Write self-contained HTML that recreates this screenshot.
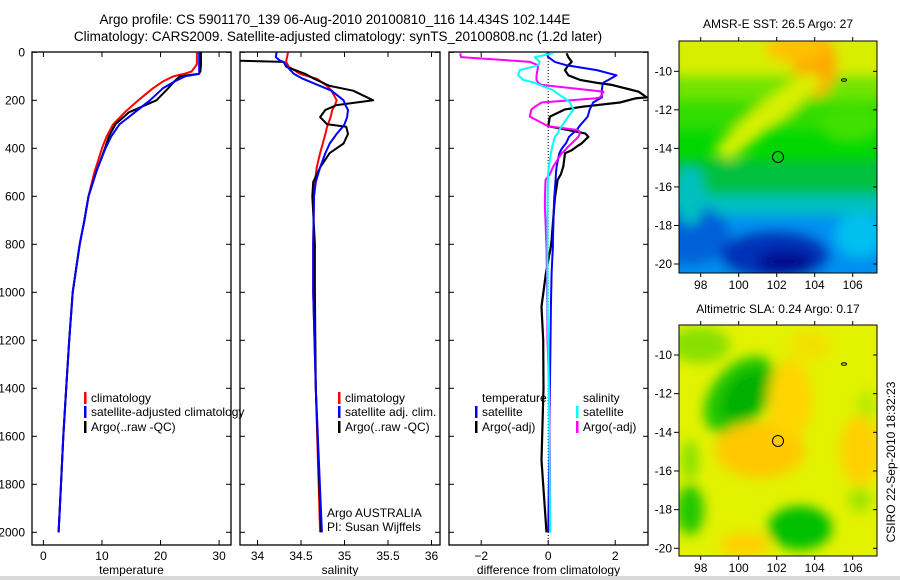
<!DOCTYPE html>
<html><head><meta charset="utf-8"><style>
body{margin:0;background:#fff;}
svg{display:block;font-family:"Liberation Sans",sans-serif;}
text{font-size:12px;fill:#000;}
</style></head><body>
<svg id="fig" width="900" height="580" viewBox="0 0 900 580">
<defs>
<filter id="blur" x="-20%" y="-20%" width="140%" height="140%"><feGaussianBlur stdDeviation="6"/></filter>
<clipPath id="m1clip"><rect x="679" y="41" width="198" height="232"/></clipPath>
<clipPath id="m2clip"><rect x="679" y="325" width="198" height="231"/></clipPath>
<clipPath id="p1clip"><rect x="32" y="52" width="199" height="493"/></clipPath>
<clipPath id="p2clip"><rect x="240" y="52" width="200" height="493"/></clipPath>
<clipPath id="p3clip"><rect x="449" y="52" width="199" height="493"/></clipPath>
</defs>
<text x="335" y="24" text-anchor="middle" style="font-size:13.5px">Argo profile: CS 5901170_139 06-Aug-2010 20100810_116 14.434S 102.144E</text>
<text x="338" y="41" text-anchor="middle" style="font-size:13.5px">Climatology: CARS2009. Satellite-adjusted climatology: synTS_20100808.nc (1.2d later)</text>

<!-- Map 1 -->
<g clip-path="url(#m1clip)">
<rect x="679" y="41" width="198" height="232" fill="#00d800"/>
<g filter="url(#blur)">
<rect x="670" y="30" width="220" height="50" fill="#d8ee00"/>
<rect x="670" y="75" width="220" height="30" fill="#70e400"/>
<rect x="670" y="100" width="230" height="30" fill="#30dc00"/>
<ellipse cx="815" cy="65" rx="22" ry="32" fill="#ffa800"/>
<ellipse cx="795" cy="48" rx="30" ry="14" fill="#ffc000"/>
<polygon points="712,150 730,160 800,105 825,80 805,72 760,105" fill="#d8f000"/>
<ellipse cx="850" cy="125" rx="30" ry="18" fill="#40e000"/>
<rect x="670" y="160" width="230" height="38" fill="#00c040"/>
<rect x="670" y="195" width="230" height="22" fill="#00c0c0"/>
<rect x="670" y="215" width="230" height="70" fill="#0090f0"/>
<ellipse cx="690" cy="235" rx="40" ry="30" fill="#0060d8"/>
<ellipse cx="775" cy="255" rx="55" ry="25" fill="#0030b8"/>
<ellipse cx="785" cy="262" rx="28" ry="12" fill="#001090"/>
<ellipse cx="860" cy="235" rx="25" ry="22" fill="#00c0f0"/>
<ellipse cx="690" cy="195" rx="15" ry="30" fill="#00c0c0"/>
</g>
</g>
<rect x="679" y="41" width="198" height="232" fill="none" stroke="#000"/>
<circle cx="778" cy="157" r="5.5" fill="none" stroke="#000"/>
<ellipse cx="844" cy="80" rx="2.5" ry="1.3" fill="none" stroke="#000"/>
<text x="778" y="28" text-anchor="middle">AMSR-E SST: 26.5 Argo: 27</text>

<!-- Map 2 -->
<g clip-path="url(#m2clip)">
<rect x="679" y="325" width="198" height="231" fill="#e2f200"/>
<g filter="url(#blur)">
<ellipse cx="740" cy="395" rx="28" ry="45" transform="rotate(40 740 395)" fill="#22c800"/>
<ellipse cx="745" cy="395" rx="18" ry="30" transform="rotate(40 745 395)" fill="#00b000"/>
<ellipse cx="700" cy="345" rx="30" ry="18" fill="#88e000"/>
<ellipse cx="800" cy="528" rx="32" ry="22" fill="#00c000"/>
<ellipse cx="690" cy="510" rx="14" ry="25" fill="#20c800"/>
<ellipse cx="690" cy="460" rx="8" ry="20" fill="#80e000"/>
<ellipse cx="760" cy="450" rx="45" ry="28" fill="#ffc800"/>
<ellipse cx="790" cy="400" rx="22" ry="40" fill="#ffd400"/>
<ellipse cx="860" cy="450" rx="20" ry="35" fill="#ffd000"/>
<ellipse cx="745" cy="545" rx="25" ry="12" fill="#ffd000"/>
<ellipse cx="810" cy="345" rx="20" ry="15" fill="#f4e000"/>
<ellipse cx="867" cy="405" rx="10" ry="14" fill="#b8ea00"/>
<ellipse cx="860" cy="500" rx="12" ry="12" fill="#a0e400"/>
</g>
</g>
<rect x="679" y="325" width="198" height="231" fill="none" stroke="#000"/>
<circle cx="778" cy="441" r="5.5" fill="none" stroke="#000"/>
<ellipse cx="844" cy="364" rx="2.5" ry="1.3" fill="none" stroke="#000"/>
<text x="778" y="313" text-anchor="middle">Altimetric SLA: 0.24 Argo: 0.17</text>
<text x="0" y="0" text-anchor="middle" transform="translate(895 462) rotate(-90)">CSIRO 22-Sep-2010 18:32:23</text>

<g id="axes"></g>
<rect x="0" y="576" width="900" height="4" fill="#d8d8d8"/>
</svg>
<script>
// ---------- data ----------
const depthT = [0,50,80,90,100,120,150,200,250,300,350,400,500,600,700,800,1000,1200,1400,1600,1800,2000];
const tempArgo = [26.9,26.9,26.8,26.5,23.3,22.4,21.3,19.3,14.6,12.3,11.2,10.5,9.0,7.7,7.0,6.2,5.0,4.4,3.9,3.4,3.0,2.6];
const tempClim = [26.2,26.2,25.3,24.0,22.2,20.5,18.7,16.2,13.9,11.9,10.8,10.0,8.7,7.7,7.0,6.2,5.0,4.4,3.9,3.4,3.0,2.6];
const tempSat  = [26.6,26.6,26.6,26.6,24.2,22.5,20.4,18.2,15.6,13.0,11.6,10.6,9.0,7.7,7.0,6.2,5.0,4.4,3.9,3.4,3.0,2.6];
const depthS = [0,20,35,40,60,90,110,140,160,200,220,240,270,300,310,340,380,420,480,540,600,800,1000,1400,2000];
const salArgo = [33.75,33.75,33.75,34.3,34.33,34.55,34.65,34.83,35.1,35.33,34.91,34.78,34.72,34.8,35.02,35.04,34.99,34.83,34.72,34.64,34.63,34.66,34.66,34.67,34.73];
const salClim = [34.35,34.34,34.33,34.33,34.36,34.49,34.68,34.8,34.85,34.91,34.89,34.86,34.84,34.81,34.8,34.78,34.75,34.72,34.68,34.66,34.65,34.64,34.64,34.67,34.72];
const salSat  = [34.22,34.21,34.26,34.3,34.34,34.42,34.52,34.72,34.85,34.99,35.01,35.04,35.03,35.0,34.98,34.91,34.83,34.78,34.72,34.67,34.65,34.64,34.64,34.67,34.74];
const depthD = [4,20,40,54,74,96,115,127,136,157,164,188,192,209,227,238,268,308,324,338,352,379,393,408,421,476,508,532,608,643,782,808,921,1060,1199,1400,1700,2000];
const diffTSat = [-0.05,0,0.2,0.55,1.45,2.04,1.8,1.64,1.62,1.6,1.6,1.6,1.55,1.34,1.28,1.24,1.18,0.93,0.85,0.73,0.62,0.53,0.45,0.38,0.33,0.25,0.23,0.22,0.18,0.17,0.14,0.14,0.1,0.08,0.07,0.05,0.03,0.0];
const diffTArgo = [0.55,0.6,0.7,0.6,0.5,0.6,0.95,1.45,1.9,2.5,2.7,2.94,2.6,2.14,1.0,0.5,0.05,0.0,0.6,1.1,1.2,1.0,0.85,0.7,0.5,0.45,0.38,0.28,0.2,0.18,0.1,0.08,-0.07,-0.2,-0.15,-0.14,-0.2,-0.05];
const diffSSat = [0.15,-0.4,-0.25,-0.3,-0.85,-0.9,-0.74,-0.4,-0.25,0.14,0.2,0.45,0.5,0.65,0.7,0.76,0.6,0.4,0.33,0.28,0.2,0.15,0.12,0.1,0.08,0.02,0,-0.01,-0.02,-0.02,-0.02,-0.02,-0.02,-0.02,0,0.02,0.04,0.06];
const diffSArgo = [-2.63,-2.6,-0.54,-0.3,-0.32,-0.35,-0.35,-0.3,-0.2,1.2,1.65,1.55,1.4,-0.2,-0.4,-0.5,-0.55,0,0.9,0.95,0.9,0.7,0.6,0.5,0.4,0.15,0.05,-0.08,-0.1,-0.1,-0.06,-0.05,-0.04,-0.03,-0.02,0.03,0.05,0.05];
const depthTicks = [0,200,400,600,800,1000,1200,1400,1600,1800,2000];
const tempTicks = [0,10,20,30];
const salTicks = [34,34.5,35,35.5,36];
const salTickLabels = ["34","34.5","35","35.5","36"];
const diffTicks = [-2,0,2];
const latTicks = [10,12,14,16,18,20];
const lonTicks = [98,100,102,104,106];

// ---------- scales ----------
const yD = d => 52.3 + 0.24*d;
const xT = t => 43.4 + 5.857*t;
const xS = s => 257.5 + 87*(s-34);
const xDf = v => 548.2 + 33.5*v;
const xLon = l => 700.7 + 19*(l-98);
const yLat1 = l => 71.3 + 19.27*(l-10);
const yLat2 = l => 355 + 19.33*(l-10);

const NS="http://www.w3.org/2000/svg";
const root=document.getElementById('axes');
function mk(tag,attrs,parent){const e=document.createElementNS(NS,tag);for(const k in attrs)e.setAttribute(k,attrs[k]);(parent||root).appendChild(e);return e;}
function txt(x,y,s,anchor,parent){const e=mk('text',{x:x,y:y,'text-anchor':anchor||'start'},parent);e.textContent=s;return e;}

function panel(name,x0,x1,clip,xs,ticks,labels,title){
  const g=mk('g',{});
  
  
  const fr=mk('rect',{x:x0,y:52,width:x1-x0,height:493,fill:'none',stroke:'#000','stroke-width':1.3},g);
  
  
  depthTicks.forEach(d=>{
    mk('line',{x1:x0,x2:x0+5,y1:yD(d),y2:yD(d),stroke:'#000'},g);
    mk('line',{x1:x1-5,x2:x1,y1:yD(d),y2:yD(d),stroke:'#000'},g);
  });
  ticks.forEach((v,i)=>{
    const x=xs(v);
    mk('line',{x1:x,x2:x,y1:545,y2:540,stroke:'#000'},g);
    mk('line',{x1:x,x2:x,y1:52,y2:57,stroke:'#000'},g);
    const t=txt(x,560,labels[i],'middle',g);
    
    
  });
  const tt=txt((x0+x1)/2,574,title,'middle',g);
  
  
  return g;
}
function line(name,xs,vals,depths,color,clip,w){
  const pts=vals.map((v,i)=>xs(v).toFixed(1)+','+yD(depths[i]).toFixed(1)).join(' ');
  const p=mk('polyline',{points:pts,fill:'none',stroke:color,'stroke-width':w||2,'clip-path':'url(#'+clip+')','stroke-linejoin':'round'});
  
  
}
function legend(name,x,y,color,label){
  const g=mk('g',{});
  
  
  if(color) mk('rect',{x:x,y:y-10,width:2.5,height:12,fill:color},g);
  txt(x+7,y,label,'start',g);
}

panel('temperature',32,231,'p1clip',xT,tempTicks,tempTicks.map(String),'temperature');
panel('salinity',240,440,'p2clip',xS,salTicks,salTickLabels,'salinity');
panel('difference',449,648,'p3clip',xDf,diffTicks,diffTicks.map(v=>v<0?'\u2212'+(-v):String(v)),'difference from climatology');

depthTicks.forEach(d=>{
  const t=txt(25,yD(d)+4,String(d),'end');
  
  
});

const z=mk('line',{x1:xDf(0),x2:xDf(0),y1:52,y2:545,stroke:'#000','stroke-dasharray':'1,2'});



line('temp-climatology-line',xT,tempClim,depthT,'#ff0000','p1clip');
line('temp-argo-line',xT,tempArgo,depthT,'#000','p1clip');
line('temp-satellite-line',xT,tempSat,depthT,'#0000ff','p1clip');
line('sal-climatology-line',xS,salClim,depthS,'#ff0000','p2clip');
line('sal-argo-line',xS,salArgo,depthS,'#000','p2clip');
line('sal-satellite-line',xS,salSat,depthS,'#0000ff','p2clip');
line('diff-temp-argo-line',xDf,diffTArgo,depthD,'#000','p3clip',2.2);
line('diff-temp-satellite-line',xDf,diffTSat,depthD,'#0000ff','p3clip');
line('diff-sal-argo-line',xDf,diffSArgo,depthD,'#ff00ff','p3clip');
line('diff-sal-satellite-line',xDf,diffSSat,depthD,'#00ffff','p3clip');

legend('legend-climatology',84,402,'#ff0000','climatology');
legend('legend-satellite-adjusted',84,416,'#0000ff','satellite-adjusted climatology');
legend('legend-argo',84,431,'#000','Argo(..raw -QC)');
legend('legend-sal-climatology',338,402,'#ff0000','climatology');
legend('legend-sal-satellite',338,416,'#0000ff','satellite adj. clim.');
legend('legend-sal-argo',338,431,'#000','Argo(..raw -QC)');
legend('legend-temperature-header',475,402,null,'temperature');
legend('legend-diff-temp-satellite',475,416,'#0000ff','satellite');
legend('legend-diff-temp-argo',475,431,'#000','Argo(-adj)');
legend('legend-salinity-header',576,402,null,'salinity');
legend('legend-diff-sal-satellite',576,416,'#00ffff','satellite');
legend('legend-diff-sal-argo',576,431,'#ff00ff','Argo(-adj)');
const a1=txt(327,517,'Argo AUSTRALIA');


const a2=txt(327,531,'PI: Susan Wijffels');



function mapAxes(name,yLat,top,bottom){
  latTicks.forEach(l=>{
    const y=yLat(l);
    mk('line',{x1:674,x2:679,y1:y,y2:y,stroke:'#000'});
    mk('line',{x1:873,x2:877,y1:y,y2:y,stroke:'#000'});
    const t=txt(672,y+4,'-'+l,'end');
    
    
  });
  lonTicks.forEach(l=>{
    const x=xLon(l);
    mk('line',{x1:x,x2:x,y1:bottom,y2:bottom+4,stroke:'#000'});
    mk('line',{x1:x,x2:x,y1:top-4,y2:top,stroke:'#000'});
    const t=txt(x,bottom+16,String(l),'middle');
    
    
  });
}
mapAxes('sst-map',yLat1,41,273);
mapAxes('sla-map',yLat2,325,556);
</script>
</body></html>
